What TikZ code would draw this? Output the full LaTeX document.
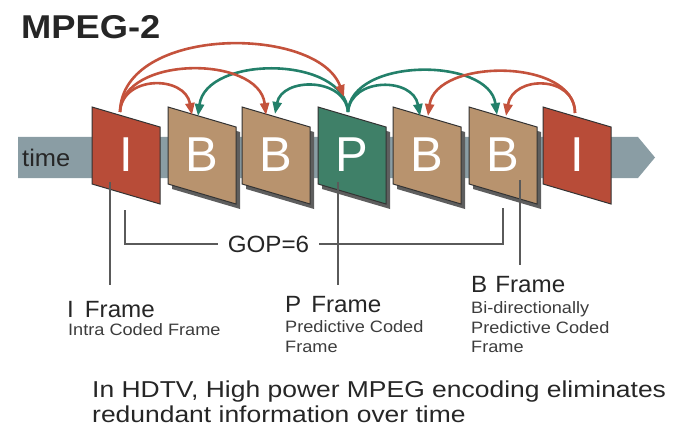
\documentclass[tikz,border=0pt]{standalone}
\usepackage{fontspec}
\setmainfont{Liberation Sans}
\newfontfamily\ftitle[FakeStretch=1.1]{Liberation Sans}
\newfontfamily\fbody[FakeStretch=1.15]{Liberation Sans}
\newfontfamily\fsub[FakeStretch=1.1]{Liberation Sans}
\newfontfamily\flab[FakeStretch=1.03]{Liberation Sans}
\usetikzlibrary{arrows.meta}
\definecolor{ired}{HTML}{B84C38}
\definecolor{btan}{HTML}{B8936E}
\definecolor{pgreen}{HTML}{3F8068}
\definecolor{redarr}{HTML}{C4523C}
\definecolor{greenarr}{HTML}{23806A}
\definecolor{barcol}{HTML}{8A9DA4}
\definecolor{shadowcol}{HTML}{5E5E5E}
\definecolor{edgecol}{HTML}{333333}
\definecolor{txt}{HTML}{262626}
\definecolor{subtxt}{HTML}{3C3C3C}
\definecolor{linecol}{HTML}{5A5A5A}
\begin{document}
\begin{tikzpicture}[x=1pt,y=-1pt,
  letter/.style={inner sep=0pt,text=white,font=\fontsize{49}{49}\selectfont},
  arrR/.style={draw=redarr,line width=2.6pt,-{Triangle[length=12pt,width=9pt]}},
  arrG/.style={draw=greenarr,line width=2.6pt,-{Triangle[length=12pt,width=9pt]}},
  pline/.style={draw=linecol,line width=1.3pt},
  lab/.style={inner sep=0pt,anchor=base west,text=txt,font=\flab\fontsize{23.5}{25}\selectfont},
  sublab/.style={inner sep=0pt,anchor=base west,text=subtxt,font=\fsub\fontsize{16.5}{20}\selectfont},
  body/.style={inner sep=0pt,anchor=base west,text=txt,font=\fbody\fontsize{23}{25}\selectfont}]
\useasboundingbox (0,0) rectangle (681,428);
% title
\node[inner sep=0pt,anchor=base west,text=txt,font=\ftitle\bfseries\fontsize{33}{33}\selectfont] (title) at (21,39) {MPEG-2};
% time bar
\fill[barcol] (18,137) -- (638,137) -- (655,157.5) -- (638,178) -- (18,178) -- cycle;
\node[inner sep=0pt,anchor=base west,text=txt,font=\fontsize{24}{24}\selectfont\addfontfeature{FakeStretch=1.06}] (time) at (22,167) {time};
% frames
\foreach \L/\c/\t/\n/\s in {92/ired/I/I1/0,168/btan/B/B1/1,242/btan/B/B2/1,318/pgreen/P/P/1,393/btan/B/B3/1,469/btan/B/B4/1,543/ired/I/I2/0}{
  \ifnum\s=1
    \fill[shadowcol] (\L+4,112) -- ++(68,20) -- ++(0,77) -- ++(-68,-20) -- cycle;
  \fi
  \filldraw[fill=\c,draw=edgecol,line width=1pt] (\L,107) -- ++(68,20) -- ++(0,77) -- ++(-68,-20) -- cycle;
  \node[letter] (\n) at (\L+34,155) {\t};
}
% arrow anchor points
\coordinate (sI1) at (120,112);
\coordinate (sP) at (348,112);
\coordinate (sI2) at (575,113);
\coordinate (tB1r) at (192,115);
\coordinate (tB2r) at (266,115);
\coordinate (tPr) at (344,97);
\coordinate (tB1g) at (198,116);
\coordinate (tB2g) at (275,114);
\coordinate (tB3g) at (420,116);
\coordinate (tB4g) at (497,115);
\coordinate (tB3r) at (428,116);
\coordinate (tB4r) at (506,116);
% green arrows from P
\draw[arrG] (sP) .. controls (345,55) and (206,55) .. (tB1g);
\draw[arrG] (sP) .. controls (345,77) and (282,77) .. (tB2g);
\draw[arrG] (sP) .. controls (351,77) and (413,77) .. (tB3g);
\draw[arrG] (sP) .. controls (351,57) and (489,57) .. (tB4g);
% red arrows from I frames
\draw[arrR] (sI1) .. controls (122,75) and (185,75) .. (tB1r);
\draw[arrR] (sI1) .. controls (122,55) and (259,55) .. (tB2r);
\draw[arrR] (sI1) .. controls (122,25) and (318,25) .. (tPr);
\draw[arrR] (sI2) .. controls (575,58) and (436,58) .. (tB3r);
\draw[arrR] (sI2) .. controls (575,75) and (513,75) .. (tB4r);
% pointer lines
\coordinate (lI) at (110,182);
\coordinate (lIe) at (110,285);
\coordinate (lP) at (338,182);
\coordinate (lPe) at (338,285);
\coordinate (lB) at (520,180);
\coordinate (lBe) at (520,265);
\draw[pline] (lI) -- (lIe);
\draw[pline] (lP) -- (lPe);
\draw[pline] (lB) -- (lBe);
% GOP bracket
\node[inner ysep=0pt,inner xsep=10pt,anchor=base,text=txt,font=\flab\fontsize{23.5}{25}\selectfont] (gop) at (268.5,252) {GOP=6};
\coordinate (gL) at (125,210);
\coordinate (gR) at (503,208);
\draw[pline] (gL) |- (gop.west);
\draw[pline] (gop.east) -| (gR);
% labels
\node[lab] (iframe) at (67,317) {I\hspace{11pt}Frame};
\node[sublab] (idesc) at (68,335) {Intra Coded Frame};
\node[lab] (pframe) at (285,312) {P\hspace{10pt}Frame};
\node[sublab] (pdesc1) at (285,332) {Predictive Coded};
\node[sublab] (pdesc2) at (285,352) {Frame};
\node[lab] (bframe) at (471,292) {B\hspace{8pt}Frame};
\node[sublab] (bdesc1) at (471,313) {Bi-directionally};
\node[sublab] (bdesc2) at (471,333) {Predictive Coded};
\node[sublab] (bdesc3) at (471,352) {Frame};
% bottom text
\node[body] (line1) at (92,397) {In HDTV, High power MPEG encoding eliminates};
\node[body] (line2) at (92,422) {redundant information over time};
\end{tikzpicture}
\end{document}
